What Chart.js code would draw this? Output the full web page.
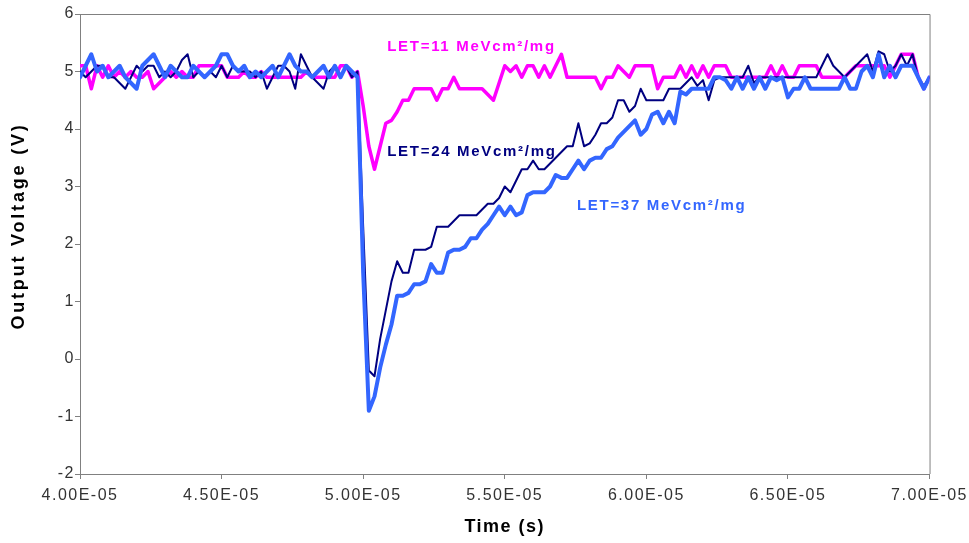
<!DOCTYPE html>
<html>
<head>
<meta charset="utf-8">
<script src="https://cdn.jsdelivr.net/npm/chart.js@4.4.1/dist/chart.umd.min.js"></script>
<style>
html,body{margin:0;padding:0;background:#fff;}
#wrap{position:relative;width:969px;height:543px;}
</style>
</head>
<body>
<div id="wrap"><canvas id="c" width="969" height="543"></canvas></div>
<script>
// Sample times in microseconds (axis labels show seconds)
const timeUs = [
40.0,40.2,40.4,40.6,40.8,41.0,41.2,41.4,41.6,41.8,
42.0,42.2,42.4,42.6,42.8,43.0,43.2,43.4,43.6,43.8,
44.0,44.2,44.4,44.6,44.8,45.0,45.2,45.4,45.6,45.8,
46.0,46.2,46.4,46.6,46.8,47.0,47.2,47.4,47.6,47.8,
48.0,48.2,48.4,48.6,48.8,49.0,49.2,49.4,49.6,49.8,
50.0,50.2,50.4,50.6,50.8,51.0,51.2,51.4,51.6,51.8,
52.0,52.2,52.4,52.6,52.8,53.0,53.2,53.4,53.6,53.8,
54.0,54.2,54.4,54.6,54.8,55.0,55.2,55.4,55.6,55.8,
56.0,56.2,56.4,56.6,56.8,57.0,57.2,57.4,57.6,57.8,
58.0,58.2,58.4,58.6,58.8,59.0,59.2,59.4,59.6,59.8,
60.0,60.2,60.4,60.6,60.8,61.0,61.2,61.4,61.6,61.8,
62.0,62.2,62.4,62.6,62.8,63.0,63.2,63.4,63.6,63.8,
64.0,64.2,64.4,64.6,64.8,65.0,65.2,65.4,65.6,65.8,
66.0,66.2,66.4,66.6,66.8,67.0,67.2,67.4,67.6,67.8,
68.0,68.2,68.4,68.6,68.8,69.0,69.2,69.4,69.6,69.8,
70.0];

// LET = 11 MeVcm2/mg (magenta)
const let11 = [
5.1,5.1,4.7,5.1,4.9,5.1,4.9,5.0,4.9,5.0,
4.9,4.9,5.0,4.7,4.8,4.9,5.0,4.9,5.0,4.9,
4.9,5.1,5.1,5.1,5.1,5.1,4.9,4.9,4.9,5.0,
4.9,4.9,5.0,4.9,4.9,4.9,4.9,4.9,4.9,4.9,
5.0,4.9,4.9,4.9,4.9,4.9,5.1,5.1,4.9,5.0,
4.4,3.7,3.3,3.7,4.1,4.15,4.3,4.5,4.5,4.7,
4.7,4.7,4.7,4.5,4.7,4.7,4.9,4.7,4.7,4.7,
4.7,4.7,4.6,4.5,4.8,5.1,5.0,5.1,4.9,5.1,
5.1,4.9,5.1,4.9,5.1,5.3,4.9,4.9,4.9,4.9,
4.9,4.9,4.7,4.9,4.9,5.1,5.0,4.9,5.1,5.1,
5.1,5.1,4.7,4.9,4.9,4.9,5.1,4.9,5.1,4.9,
5.1,4.9,5.1,5.1,5.1,4.9,4.9,4.9,4.9,4.9,
4.9,4.9,5.1,4.9,5.1,4.9,4.9,5.1,5.1,5.1,
5.1,4.9,4.9,4.9,4.9,4.9,5.0,5.1,5.1,5.1,
5.1,5.1,5.1,4.9,5.1,5.3,5.3,5.3,4.9,4.7,
4.9];

// LET = 24 MeVcm2/mg (navy)
const let24 = [
5.0,4.9,5.0,5.1,5.1,4.9,4.9,4.8,4.7,4.9,
5.1,5.0,5.1,5.1,4.9,5.0,4.9,5.0,5.2,5.3,
4.9,5.0,4.9,5.0,4.9,5.1,4.9,5.1,5.0,5.0,
5.0,4.9,5.0,4.7,4.9,5.1,5.1,5.0,4.7,5.3,
5.1,4.9,4.8,4.7,5.0,5.1,4.9,5.1,4.9,5.0,
2.3,-0.2,-0.3,0.35,0.85,1.35,1.7,1.5,1.5,1.9,
1.9,1.9,1.95,2.3,2.3,2.3,2.4,2.5,2.5,2.5,
2.5,2.6,2.7,2.7,2.8,3.0,2.9,3.1,3.3,3.3,
3.45,3.3,3.3,3.4,3.5,3.6,3.7,3.7,4.1,3.7,
3.75,3.9,4.1,4.1,4.2,4.5,4.5,4.3,4.4,4.7,
4.5,4.5,4.5,4.5,4.7,4.7,4.7,4.8,4.9,4.75,
4.85,4.5,4.85,4.9,4.9,4.9,4.9,4.9,5.1,4.8,
4.9,4.9,4.9,4.9,4.9,4.9,4.9,4.9,4.9,4.9,
4.9,5.1,5.3,5.1,5.0,4.9,5.0,5.1,5.2,5.3,
5.0,5.35,5.3,5.0,5.1,5.3,5.1,5.3,4.9,4.75,
4.9];

// LET = 37 MeVcm2/mg (blue)
const let37 = [
4.9,5.1,5.3,5.0,5.1,4.9,5.0,5.1,4.9,4.8,
4.7,5.1,5.2,5.3,5.1,4.9,5.1,5.0,4.9,4.9,
5.1,5.0,4.9,5.0,5.1,5.3,5.3,5.1,5.0,5.1,
4.9,5.0,4.9,5.0,5.1,4.9,5.1,5.3,5.1,5.0,
5.0,4.9,5.0,5.1,4.9,5.1,4.9,5.1,5.0,4.9,
1.5,-0.9,-0.65,-0.15,0.25,0.6,1.1,1.1,1.15,1.3,
1.3,1.35,1.65,1.5,1.5,1.85,1.9,1.9,1.95,2.1,
2.1,2.25,2.35,2.5,2.65,2.5,2.65,2.5,2.55,2.85,
2.9,2.9,2.9,3.0,3.2,3.15,3.15,3.3,3.45,3.3,
3.45,3.5,3.5,3.65,3.7,3.85,3.95,4.05,4.15,3.9,
4.0,4.25,4.3,4.1,4.3,4.1,4.65,4.6,4.7,4.7,
4.7,4.7,4.9,4.9,4.85,4.7,4.9,4.7,4.9,4.7,
4.9,4.7,4.9,4.85,4.9,4.55,4.7,4.7,4.9,4.7,
4.7,4.7,4.7,4.7,4.7,4.9,4.7,4.7,5.0,5.1,
4.9,5.3,4.9,5.1,4.9,5.1,5.1,5.1,4.9,4.7,
4.9];

const xTickValues = [40, 45, 50, 55, 60, 65, 70];
const xTickLabels = ["4.00E-05","4.50E-05","5.00E-05","5.50E-05","6.00E-05","6.50E-05","7.00E-05"];
const yTickValues = [-2,-1,0,1,2,3,4,5,6];
const seriesNames = ["LET=11 MeVcm\u00B2/mg","LET=24 MeVcm\u00B2/mg","LET=37 MeVcm\u00B2/mg"];
const seriesColors = ["#ff00ff","#000080","#3366ff"];
const yTitle = "Output Voltage (V)";
const xTitle = "Time (s)";

// label anchors in data units (time us, volts)
const labelAnchors = [
  {t: 50.85, v: 5.43},
  {t: 50.85, v: 3.60},
  {t: 57.55, v: 2.67}
];

function pts(ys){ return ys.map((y,i)=>({x: timeUs[i], y: y})); }

const spacingPlugin = {
  id: 'spacing',
  beforeDraw(chart){ chart.ctx.letterSpacing = '1.5px'; }
};

const labelPlugin = {
  id: 'seriesLabels',
  afterDatasetsDraw(chart){
    const ctx = chart.ctx;
    const xs = chart.scales.x, ys = chart.scales.y;
    ctx.save();
    ctx.letterSpacing = '1.7px';
    ctx.font = 'bold 15px "Liberation Sans", Arial, sans-serif';
    ctx.textBaseline = 'middle';
    ctx.textAlign = 'left';
    seriesNames.forEach((name,i)=>{
      ctx.fillStyle = seriesColors[i];
      ctx.fillText(name, xs.getPixelForValue(labelAnchors[i].t), ys.getPixelForValue(labelAnchors[i].v));
    });
    ctx.restore();
  }
};

const yTitlePlugin = {
  id: 'yTitle',
  afterDraw(chart){
    const ctx = chart.ctx, a = chart.chartArea;
    ctx.save();
    ctx.letterSpacing = '2.8px';
    ctx.font = 'bold 18px "Liberation Sans", Arial, sans-serif';
    ctx.fillStyle = '#000';
    ctx.textAlign = 'center';
    ctx.textBaseline = 'middle';
    ctx.translate(19, (a.top + a.bottom) / 2 - 18);
    ctx.rotate(-Math.PI / 2);
    ctx.fillText(yTitle, 0, 0);
    ctx.restore();
  }
};

const boxPlugin = {
  id: 'plotBox',
  beforeDatasetsDraw(chart){
    const a = chart.chartArea, ctx = chart.ctx;
    ctx.save();
    ctx.strokeStyle = '#808080';
    ctx.lineWidth = 1;
    ctx.beginPath();
    ctx.moveTo(a.left, a.top + 0.5);
    ctx.lineTo(a.right + 0.5, a.top + 0.5);
    ctx.lineTo(a.right + 0.5, a.bottom);
    ctx.stroke();
    ctx.restore();
  }
};

new Chart(document.getElementById('c'), {
  type: 'line',
  data: {
    datasets: [
      {label: seriesNames[0], data: pts(let11), borderColor: seriesColors[0], borderWidth: 3.5, order: 3},
      {label: seriesNames[1], data: pts(let24), borderColor: seriesColors[1], borderWidth: 2, order: 2},
      {label: seriesNames[2], data: pts(let37), borderColor: seriesColors[2], borderWidth: 4, order: 1}
    ]
  },
  options: {
    responsive: false,
    animation: false,
    events: [],
    elements: {
      point: {radius: 0},
      line: {tension: 0, borderJoinStyle: 'round', borderCapStyle: 'round', fill: false}
    },
    layout: {padding: {top: 14, right: 38, left: 0, bottom: 0}},
    plugins: {legend: {display: false}, tooltip: {enabled: false}},
    scales: {
      x: {
        type: 'linear',
        min: 40, max: 70,
        afterBuildTicks(scale){ scale.ticks = xTickValues.map(v=>({value: v})); },
        afterFit(scale){ scale.height = 69; },
        grid: {drawOnChartArea: false, drawTicks: true, tickLength: 5, color: '#808080', tickColor: '#808080'},
        border: {display: true, color: '#808080', width: 1},
        ticks: {
          padding: 7,
          color: '#333333',
          font: {family: '"Liberation Sans", Arial, sans-serif', size: 16},
          maxRotation: 0,
          autoSkip: false,
          callback(v){ const k = xTickValues.indexOf(v); return k >= 0 ? xTickLabels[k] : ''; }
        },
        title: {
          display: true, text: xTitle, color: '#000',
          font: {family: '"Liberation Sans", Arial, sans-serif', size: 18, weight: 'bold'},
          padding: {top: 4, bottom: 5}
        }
      },
      y: {
        type: 'linear',
        min: -2, max: 6,
        afterBuildTicks(scale){ scale.ticks = yTickValues.map(v=>({value: v})); },
        afterFit(scale){ scale.width = 80; },
        grid: {drawOnChartArea: false, drawTicks: true, tickLength: 5, color: '#808080', tickColor: '#808080'},
        border: {display: true, color: '#808080', width: 1},
        ticks: {
          padding: 0,
          color: '#333333',
          font: {family: '"Liberation Sans", Arial, sans-serif', size: 16},
          autoSkip: false
        },
        title: {display: false}
      }
    }
  },
  plugins: [spacingPlugin, boxPlugin, labelPlugin, yTitlePlugin]
});
</script>
</body>
</html>
